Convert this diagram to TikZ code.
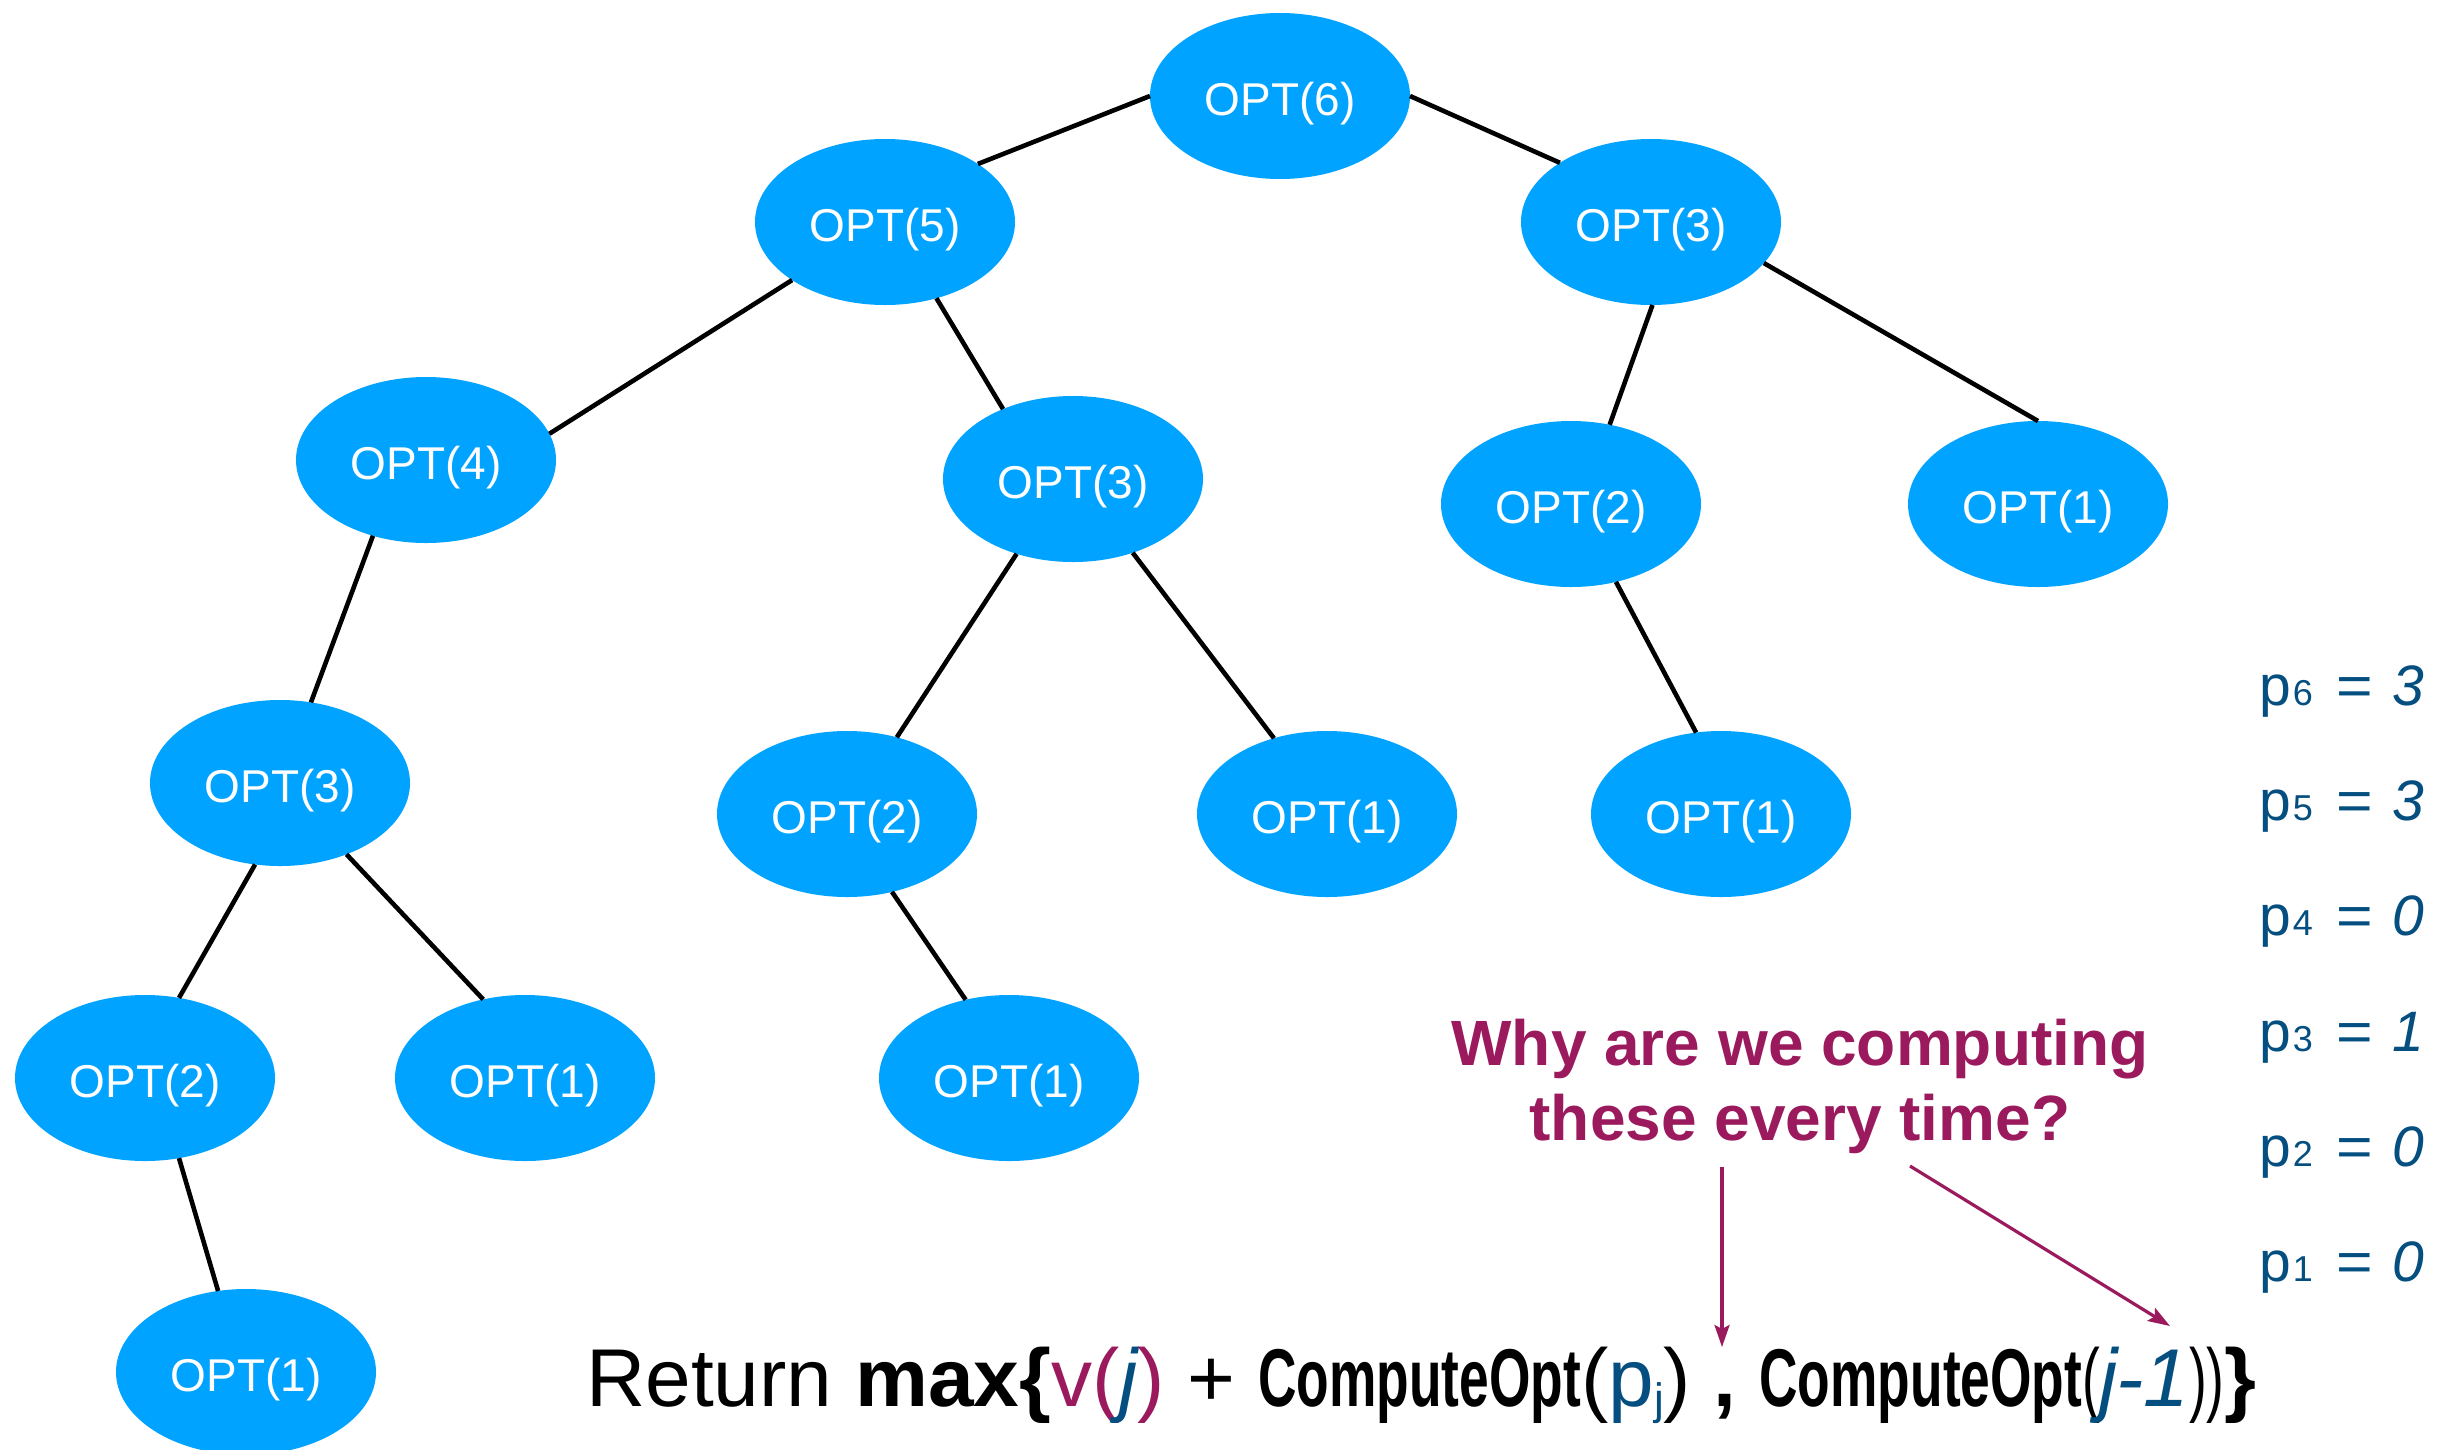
\documentclass[tikz,border=0pt]{standalone}
\usepackage{fontspec}
\usepackage{graphicx}
\setmainfont{Liberation Sans}
\newfontfamily\condfont[FakeStretch=0.65]{Liberation Sans}
\usetikzlibrary{arrows.meta,shapes.geometric}
\definecolor{optblue}{RGB}{0,163,255}
\definecolor{askpurple}{RGB}{155,26,94}
\definecolor{pblue}{RGB}{4,78,128}
\tikzset{
  optnode/.style={ellipse, fill=optblue, draw=none, minimum width=260pt,
    minimum height=166pt, inner sep=0pt, outer sep=0pt, text=white,
    text height=45pt, text depth=6pt,
    font=\fontsize{46}{50}\selectfont},
  edge/.style={black, line width=4.6pt},
  asktext/.style={text=askpurple, inner sep=0pt,
    font=\fontsize{64}{70}\selectfont\bfseries},
  askarrow/.style={askpurple, line width=3.2pt,
    -{Stealth[length=22pt,width=15pt,inset=4pt]}},
  plabel/.style={anchor=base west, inner sep=0pt, text=pblue,
    font=\fontsize{57}{60}\selectfont}
}
\newcommand{\psub}[1]{\hspace{2pt}{\fontsize{36}{36}\selectfont #1}}
\newcommand{\peq}{\hspace{24pt}\scalebox{1.1}[1]{=}\hspace{19pt}}
\newcommand{\cmpopt}{{\condfont\bfseries ComputeOpt}}
\newcommand{\thinpar}[1]{{\condfont #1}}
\begin{document}
\begin{tikzpicture}[x=1pt,y=-1pt]
\useasboundingbox (0,0) rectangle (2456,1449);
\fill[white] (0,0) rectangle (2456,1449);

% recursion tree of OPT calls
\node[optnode] (n6)  at (1280,96)   {OPT(6)};
\node[optnode] (n5)  at (885,222)   {OPT(5)};
\node[optnode] (n3a) at (1651,222)  {OPT(3)};
\node[optnode] (n4)  at (426,460)   {OPT(4)};
\node[optnode] (n3b) at (1073,479)  {OPT(3)};
\node[optnode] (n2a) at (1571,504)  {OPT(2)};
\node[optnode] (n1a) at (2038,504)  {OPT(1)};
\node[optnode] (n3c) at (280,783)   {OPT(3)};
\node[optnode] (n2b) at (847,814)   {OPT(2)};
\node[optnode] (n1b) at (1327,814)  {OPT(1)};
\node[optnode] (n1c) at (1721,814)  {OPT(1)};
\node[optnode] (n2c) at (145,1078)  {OPT(2)};
\node[optnode] (n1d) at (525,1078)  {OPT(1)};
\node[optnode] (n1e) at (1009,1078) {OPT(1)};
\node[optnode] (n1f) at (246,1372)  {OPT(1)};

\draw[edge] (n6.180)  -- (n5.32);
\draw[edge] (n6.0)    -- (n3a.147);
\draw[edge] (n5.212)  -- (n4.12);
\draw[edge] (n5.304)  -- (n3b.135);
\draw[edge] (n3a.271) -- (n2a.64);
\draw[edge] (n3a.340) -- (n1a.90);
\draw[edge] (n4.235)  -- (n3c.69);
\draw[edge] (n3b.233) -- (n2b.57);
\draw[edge] (n3b.309) -- (n1b.125);
\draw[edge] (n2a.300) -- (n1c.107);
\draw[edge] (n3c.253) -- (n2c.67);
\draw[edge] (n3c.313) -- (n1d.118);
\draw[edge] (n2b.300) -- (n1e.119);
\draw[edge] (n2c.293) -- (n1f.109);

% predecessor values
\node[plabel] (p6) at (2259,705)  {p\psub{6}\peq\textit{3}};
\node[plabel] (p5) at (2259,820)  {p\psub{5}\peq\textit{3}};
\node[plabel] (p4) at (2259,935)  {p\psub{4}\peq\textit{0}};
\node[plabel] (p3) at (2259,1051) {p\psub{3}\peq\textit{1}};
\node[plabel] (p2) at (2259,1166) {p\psub{2}\peq\textit{0}};
\node[plabel] (p1) at (2259,1281) {p\psub{1}\peq\textit{0}};

% question
\node[asktext, anchor=base] (q1) at (1800,1065) {Why are we computing};
\node[asktext, anchor=base] (q2) at (1800,1140) {these every time?};

% recurrence
\node[anchor=base west, inner sep=0pt, font=\fontsize{82}{90}\selectfont] (ret) at (586,1406)
  {Return \textbf{max\{}\textcolor{askpurple}{v(}\textcolor{pblue}{\itshape j}\textcolor{askpurple}{)}
   + \cmpopt(\textcolor{pblue}{p\raisebox{-8pt}{\fontsize{44}{44}\selectfont j}})
   \textbf{,} \cmpopt\thinpar{(}\textcolor{pblue}{\itshape j\kern-2pt-1}\thinpar{))}\textbf{\}}};

\coordinate (a1s) at (1722,1167);
\coordinate (a1e) at (1722,1347);
\coordinate (a2s) at (1910,1166);
\coordinate (a2e) at (2170,1326);
\draw[askarrow] (a1s) -- (a1e);
\draw[askarrow] (a2s) -- (a2e);
\end{tikzpicture}
\end{document}
